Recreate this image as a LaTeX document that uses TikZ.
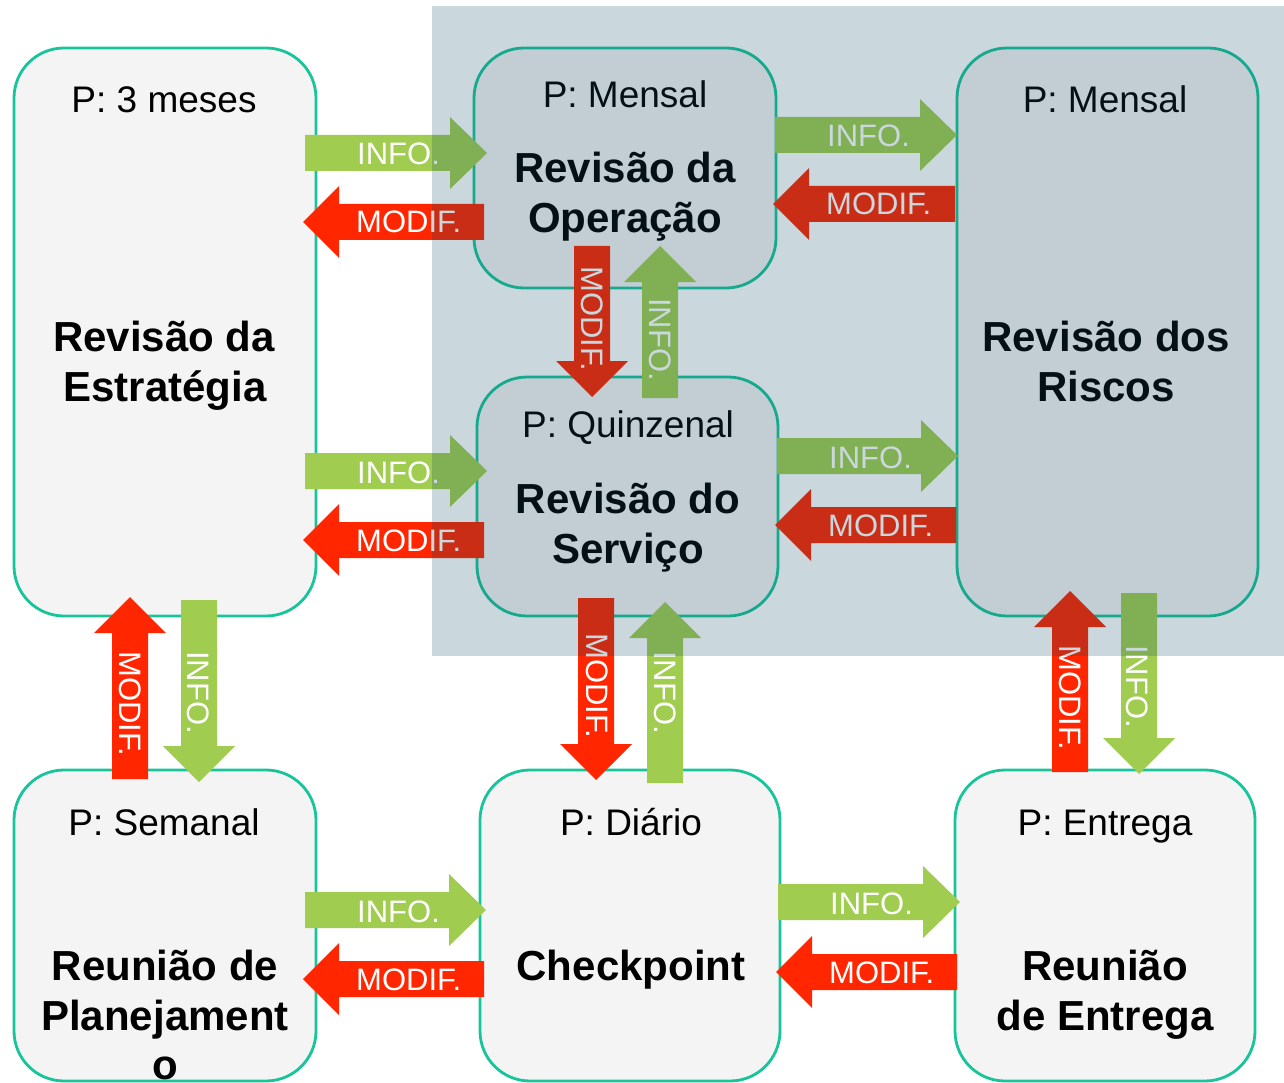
\documentclass[tikz,border=0pt]{standalone}
\usepackage{fontspec}
\setmainfont{Liberation Sans}
\definecolor{boxfill}{RGB}{244,244,244}
\definecolor{boxline}{RGB}{24,196,154}
\definecolor{agreen}{RGB}{160,204,80}
\definecolor{ared}{RGB}{255,38,0}
\definecolor{shadec}{RGB}{18,74,100}
\tikzset{
  box/.style={draw=boxline, line width=2.8pt, fill=boxfill, rounded corners=50pt, inner sep=0pt},
  ptxt/.style={anchor=base, inner sep=0pt, font=\fontsize{37}{44}\selectfont},
  ttl/.style={anchor=base, inner sep=0pt, font=\fontsize{42}{50}\selectfont\bfseries},
  atxt/.style={anchor=base west, inner sep=0pt, text=white, font=\fontsize{31}{36}\selectfont},
  vtxt/.style={atxt, rotate=-90},
  infoc/.style={fill=agreen},
  modc/.style={fill=ared},
}
% right arrow: x0, tip, y, style
\newcommand\arR[4]{\fill[#4] (#1,#3-18) -- (#2-37,#3-18) -- (#2-37,#3-36) -- (#2,#3) -- (#2-37,#3+36) -- (#2-37,#3+18) -- (#1,#3+18) -- cycle;}
% left arrow: tip, x1, y, style
\newcommand\arL[4]{\fill[#4] (#2,#3-18) -- (#1+36,#3-18) -- (#1+36,#3-36) -- (#1,#3) -- (#1+36,#3+36) -- (#1+36,#3+18) -- (#2,#3+18) -- cycle;}
% down arrow: x, top, tip, style
\newcommand\arD[4]{\fill[#4] (#1-18,#2) -- (#1-18,#3-36) -- (#1-36,#3-36) -- (#1,#3) -- (#1+36,#3-36) -- (#1+18,#3-36) -- (#1+18,#2) -- cycle;}
% up arrow: x, bottom, tip, style
\newcommand\arU[4]{\fill[#4] (#1-18,#2) -- (#1-18,#3+36) -- (#1-36,#3+36) -- (#1,#3) -- (#1+36,#3+36) -- (#1+18,#3+36) -- (#1+18,#2) -- cycle;}
\begin{document}
\begin{tikzpicture}[x=1pt,y=-1pt]
\useasboundingbox (0,0) rectangle (1284,1083);
\fill[white] (0,0) rectangle (1284,1083);
% boxes
\node[box, minimum width=302pt, minimum height=568pt] (A) at (165,332) {};
\node[box, minimum width=302pt, minimum height=240pt] (B) at (625,168) {};
\node[box, minimum width=301pt, minimum height=568pt] (C) at (1107.5,332) {};
\node[box, minimum width=301pt, minimum height=239pt] (D) at (627.5,496.5) {};
\node[box, minimum width=302pt, minimum height=311pt] (E) at (165,925.5) {};
\node[box, minimum width=300pt, minimum height=311pt] (F) at (630,925.5) {};
\node[box, minimum width=300pt, minimum height=311pt] (G) at (1105,925.5) {};
% box texts
\node[ptxt] (Ap) at (164,113) {P: 3 meses};
\node[ttl] (At1) at (164,351) {Revisão da};
\node[ttl] (At2) at (165,401) {Estratégia};
\node[ptxt] (Bp) at (625,108) {P: Mensal};
\node[ttl] (Bt1) at (625,183) {Revisão da};
\node[ttl] (Bt2) at (625,233) {Operação};
\node[ptxt] (Cp) at (1105,113) {P: Mensal};
\node[ttl] (Ct1) at (1106,351) {Revisão dos};
\node[ttl] (Ct2) at (1106,401) {Riscos};
\node[ptxt] (Dp) at (628,437) {P: Quinzenal};
\node[ttl] (Dt1) at (628,513) {Revisão do};
\node[ttl] (Dt2) at (628,563) {Serviço};
\node[ptxt] (Ep) at (164,835) {P: Semanal};
\node[ttl] (Et1) at (165,980) {Reunião de};
\node[ttl] (Et2) at (165,1030) {Planejament};
\node[ttl] (Et3) at (165,1079) {o};
\node[ptxt] (Fp) at (631,835) {P: Diário};
\node[ttl] (Ft1) at (631,980) {Checkpoint};
\node[ptxt] (Gp) at (1105,835) {P: Entrega};
\node[ttl] (Gt1) at (1105,980) {Reunião};
\node[ttl] (Gt2) at (1105,1030) {de Entrega};
% horizontal arrows
\arR{305}{487}{153}{infoc} \node[atxt] (a1) at (357,165) {INFO.};
\arL{303}{484}{222}{modc}  \node[atxt] (a2) at (356,233) {MODIF.};
\arR{775}{957}{135}{infoc} \node[atxt] (a3) at (827,147) {INFO.};
\arL{773}{955}{204}{modc}  \node[atxt] (a4) at (826,215) {MODIF.};
\arR{305}{487}{471}{infoc} \node[atxt] (a5) at (357,483) {INFO.};
\arL{303}{484}{540}{modc}  \node[atxt] (a6) at (356,551) {MODIF.};
\arR{777}{958}{456}{infoc} \node[atxt] (a7) at (829,468) {INFO.};
\arL{775}{956}{525}{modc}  \node[atxt] (a8) at (828,536) {MODIF.};
\arR{305}{486}{910}{infoc} \node[atxt] (a9) at (357,922) {INFO.};
\arL{303}{484}{979}{modc}  \node[atxt] (a10) at (356,990) {MODIF.};
\arR{778}{960}{902}{infoc} \node[atxt] (a11) at (830,914) {INFO.};
\arL{776}{957}{972}{modc}  \node[atxt] (a12) at (829,983) {MODIF.};
% vertical arrows
\arD{592}{246}{397}{modc}  \node[vtxt] (v1) at (581,266) {MODIF.};
\arU{660}{398}{246}{infoc} \node[vtxt] (v2) at (649,298) {INFO.};
\arU{130}{779}{597}{modc}  \node[vtxt] (v3) at (119,651) {MODIF.};
\arD{199}{600}{782}{infoc} \node[vtxt] (v4) at (187,651) {INFO.};
\arD{596}{598}{780}{modc}  \node[vtxt] (v5) at (586,633) {MODIF.};
\arU{665}{783}{602}{infoc} \node[vtxt] (v6) at (654,651) {INFO.};
\arU{1070}{772}{591}{modc} \node[vtxt] (v7) at (1059,645) {MODIF.};
\arD{1139}{593}{774}{infoc} \node[vtxt] (v8) at (1126,645) {INFO.};
% shaded region
\fill[shadec, opacity=0.22] (432,6) rectangle (1284,656);
\end{tikzpicture}
\end{document}
